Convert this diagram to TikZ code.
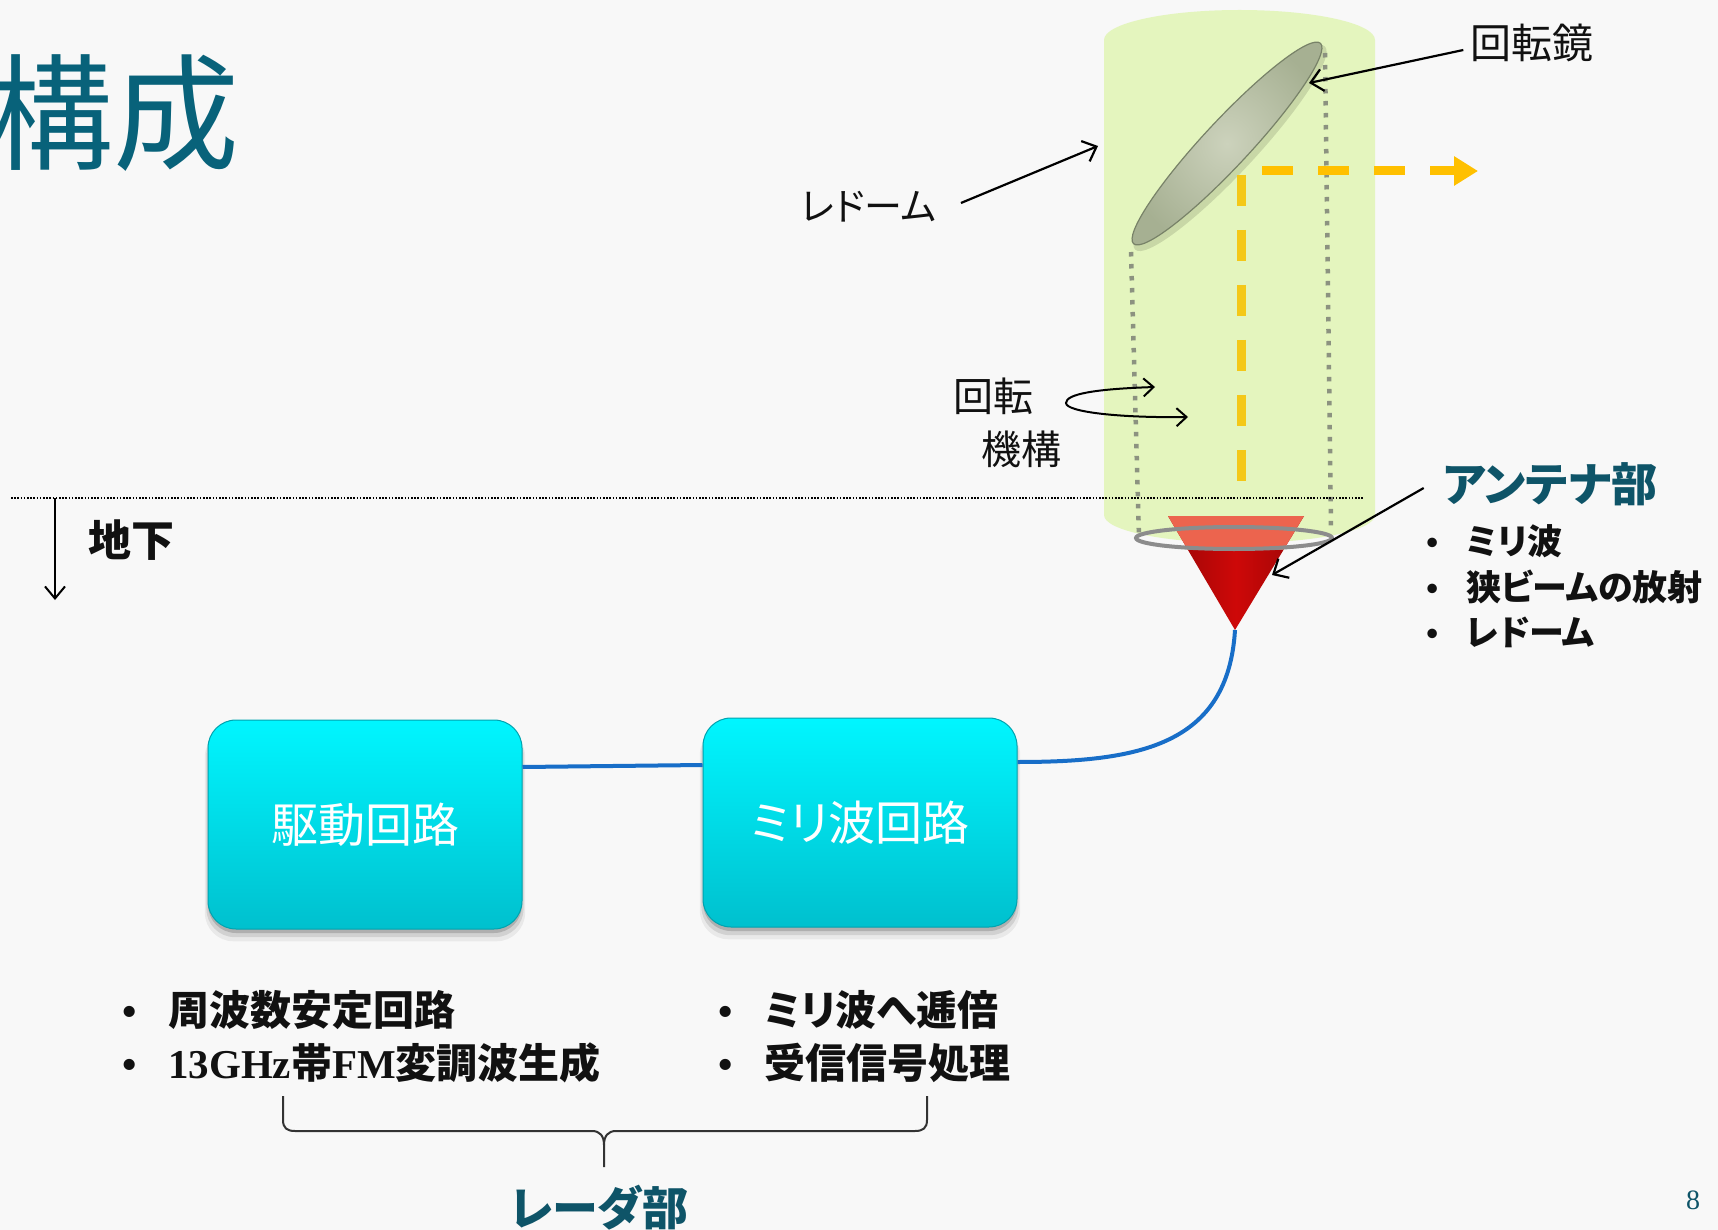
\documentclass[tikz,border=0pt]{standalone}
\usepackage{fontspec}
\usetikzlibrary{arrows.meta,shadows}
\newfontfamily\jp{Noto Sans CJK JP}[RawFeature={+palt}]
\newfontfamily\lser{Liberation Serif}
\newcommand\blt[1]{\makebox[#1][l]{\lser\bfseries •}}

\definecolor{bgc}{RGB}{248,248,248}
\definecolor{teala}{RGB}{8,98,122}
\definecolor{tealb}{RGB}{14,84,104}
\definecolor{radome}{RGB}{228,245,190}
\definecolor{mirrorin}{RGB}{204,210,188}
\definecolor{mirrorout}{RGB}{166,176,146}
\definecolor{mirroredge}{RGB}{120,130,104}
\definecolor{dotgray}{RGB}{140,146,128}
\definecolor{beamh}{RGB}{255,192,0}
\definecolor{beamv}{RGB}{244,200,24}
\definecolor{conered}{RGB}{206,8,8}
\definecolor{conelight}{RGB}{236,100,78}
\definecolor{ringgray}{RGB}{140,140,140}
\definecolor{cable}{RGB}{24,110,200}
\definecolor{boxtop}{RGB}{0,246,255}
\definecolor{boxbot}{RGB}{0,192,206}
\definecolor{txt}{RGB}{17,17,17}

\tikzset{
  lbl/.style={inner sep=0pt, text=txt, font=\jp\fontsize{40}{48}\selectfont},
  blbl/.style={inner sep=0pt, text=txt, font=\jp\bfseries\fontsize{#1}{#1}\selectfont},
  note/.style={draw=black, line width=2.2pt, -{Straight Barb[length=12pt,width=22pt]}},
  circuit/.style={rounded corners=28pt, minimum width=314pt, minimum height=209pt,
    top color=boxtop, bottom color=boxbot, draw=boxbot!85!black, line width=1pt,
    text=white, font=\jp\fontsize{47}{56}\selectfont,
    general shadow={shadow xshift=0pt, shadow yshift=-10pt, shadow scale=1.02, opacity=0.06, fill=black},
    general shadow={shadow xshift=0pt, shadow yshift=-7pt, shadow scale=1.01, opacity=0.10, fill=black},
    general shadow={shadow xshift=0pt, shadow yshift=-4pt, opacity=0.16, fill=black}},
  graydots/.style={dotgray, line width=4.5pt, dash pattern=on 4.5pt off 7.5pt},
}

\begin{document}
\begin{tikzpicture}[x=1pt,y=-1pt]
\fill[bgc] (0,0) rectangle (1718,1230);
\useasboundingbox (0,0) rectangle (1718,1230);

% title (its start runs off the left edge of the page)
\node[anchor=east, inner sep=0pt, text=teala, font=\jp\fontsize{126}{130}\selectfont] (title) at (240,113) {構成};

% radome cylinder
\fill[radome] (1104,515) -- (1104,40) arc[start angle=180,end angle=360,x radius=135.5,y radius=30]
  -- (1375,515) arc[start angle=0,end angle=180,x radius=135.5,y radius=28] -- cycle;

% horn antenna
\coordinate (apex) at (1235,630);
\shade[left color=conered!75!black, right color=conered!75!black, middle color=conered]
  (1168,516) -- (1304,516) -- (apex) -- cycle;
\begin{scope}
  \clip (1168,516) -- (1304,516) -- (apex) -- cycle;
  \fill[conelight] (1160,510) rectangle (1310,550);
\end{scope}
\draw[ringgray, line width=4pt] (1234,538) ellipse [x radius=98, y radius=11];

% rotating mirror
\fill[black, opacity=0.12, rotate around={47:(1230,148)}] (1230,148) ellipse [x radius=139, y radius=25];
\shade[inner color=mirrorin, outer color=mirrorout, rotate around={47:(1227,143.5)}]
  (1227,143.5) ellipse [x radius=137, y radius=23];
\draw[mirroredge, line width=1.2pt, rotate around={47:(1227,143.5)}]
  (1227,143.5) ellipse [x radius=137, y radius=23];

% rotation axis guides
\draw[graydots] (1131,252) -- (1139,538);
\draw[graydots] (1325,53) -- (1331,530);

% beam path
\draw[beamv, line width=9pt, dash pattern=on 31pt off 24pt] (1241,175) -- (1241,488);
\draw[beamh, line width=9pt, dash pattern=on 31pt off 25pt, -{Triangle[length=24pt,width=28pt]}] (1262,171) -- (1478,171);

% ground level
\draw[black, line width=1.6pt, dash pattern=on 1.6pt off 1.6pt] (11,498) -- (1364,498);
\coordinate (gtop) at (55,498);
\coordinate (gbot) at (55,600);
\draw[line width=2pt, -{Straight Barb[length=12pt,width=20pt]}] (gtop) -- (gbot);
\node[blbl=43, anchor=west] (ug) at (88,540) {地下};

% labels around the radome
\node[lbl, font=\jp\fontsize{41}{48}\selectfont] (mirlbl) at (1532,43) {回転鏡};
\coordinate (mirtip) at (1309,83);
\draw[note] ([xshift=-7pt,yshift=-7pt]mirlbl.west) -- (mirtip);

\node[lbl, font=\jp\fontsize{38}{46}\selectfont] (rdlbl) at (869,207) {レドーム};
\coordinate (rdtip) at (1098,146);
\draw[note] ([xshift=24pt,yshift=4pt]rdlbl.east) -- (rdtip);

\node[lbl, anchor=west, align=left, font=\jp\fontsize{40}{53}\selectfont] (rotlbl) at (953,422.5) {回転\\\hspace*{28pt}機構};
\draw[line width=2pt, {Straight Barb[length=10pt,width=18pt]}-{Straight Barb[length=10pt,width=18pt]}]
  (1155,387) .. controls (1095,389) and (1066,394) .. (1066,403)
  .. controls (1066,412) and (1120,418) .. (1188,417);

\node[blbl=46, text=tealb] (antlbl) at (1550,484) {アンテナ部};
\coordinate (anttip) at (1272,575);
\draw[note] ([xshift=-19pt,yshift=-4pt]antlbl.west) -- (anttip);
\node[blbl=35, anchor=west, align=left, font=\jp\bfseries\fontsize{35}{45.5}\selectfont] (antlist) at (1426,586.5)
  {\blt{40pt}ミリ波\\\blt{40pt}狭ビームの放射\\\blt{40pt}レドーム};

% circuit blocks
\node[circuit] (drive) at (365,824.5) {駆動回路};
\node[circuit] (mmw) at (860,822.5) {ミリ波回路};
\draw[cable, line width=4pt] ([yshift=57.5pt]drive.east) -- ([yshift=57.5pt]mmw.west);
\draw[cable, line width=4pt] (apex) .. controls (1228,745) and (1140,762) .. ([yshift=60.5pt]mmw.east);

% feature lists
\node[blbl=41, anchor=west, align=left, font=\jp\bfseries\fontsize{41}{53}\selectfont] (drivelist) at (122,1036.5)
  {\blt{46pt}周波数安定回路\\\blt{46pt}{\lser 13GHz}帯{\lser FM}変調波生成};
\node[blbl=41, anchor=west, align=left, font=\jp\bfseries\fontsize{41}{53}\selectfont] (mmwlist) at (718,1036.5)
  {\blt{46pt}ミリ波へ逓倍\\\blt{46pt}受信信号処理};

% brace over both blocks
\draw[black!80, line width=2pt] (283,1096) -- (283,1120) .. controls (283,1128) and (287,1131) .. (295,1131)
  -- (592,1131) .. controls (600,1131) and (604,1136) .. (604,1145) -- (604,1167);
\draw[black!80, line width=2pt] (927,1096) -- (927,1120) .. controls (927,1128) and (923,1131) .. (915,1131)
  -- (616,1131) .. controls (608,1131) and (604,1136) .. (604,1145);
\node[blbl=46, text=tealb] (radar) at (599,1208) {レーダ部};

\node[inner sep=0pt, text=tealb, font=\lser\fontsize{28}{30}\selectfont] (pg) at (1693,1200) {8};
\end{tikzpicture}
\end{document}
